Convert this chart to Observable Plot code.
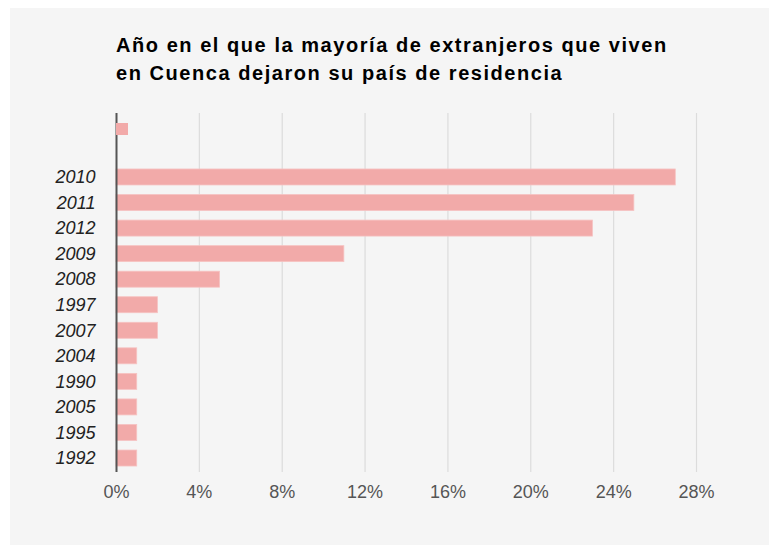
<!DOCTYPE html>
<html>
<head>
<meta charset="utf-8">
<script src="https://cdn.jsdelivr.net/npm/d3@7"></script>
<script src="https://cdn.jsdelivr.net/npm/@observablehq/plot@0.6"></script>
<style>
  html, body { margin: 0; padding: 0; background: #ffffff; }
  #wrap { position: relative; width: 769px; height: 546px; overflow: hidden; }
  #panel { position: absolute; left: 10px; top: 8px; width: 759px; height: 537px; background: #f5f5f5; }
  #title { position: absolute; left: 116px; top: 31px; font-family: "Liberation Sans", Arial, sans-serif; font-weight: bold; font-size: 20px; letter-spacing: 1.55px; line-height: 28px; color: #000; white-space: nowrap; }
  #legend { position: absolute; left: 116px; top: 123px; width: 12px; height: 12px; background: #f2aaa9; }
  #chart { position: absolute; left: 0; top: 0; }
  #chart g[aria-label="y-axis tick label"] text { font-style: italic; }
</style>
</head>
<body>
<div id="wrap">
  <div id="panel"></div>
  <div id="chart"></div>
  <div id="title"></div>
  <div id="legend"></div>
</div>
<script>
const titleLines = ["Año en el que la mayoría de extranjeros que viven", "en Cuenca dejaron su país de residencia"];
const years = ["2010", "2011", "2012", "2009", "2008", "1997", "2007", "2004", "1990", "2005", "1995", "1992"];
const percents = [27, 25, 23, 11, 5, 2, 2, 1, 1, 1, 1, 1];
const xTicks = [0, 4, 8, 12, 16, 20, 24, 28];

document.getElementById("title").innerHTML = titleLines.join("<br>");

const data = years.map((y, i) => ({year: y, value: percents[i]}));

const chart = Plot.plot({
  width: 769,
  height: 546,
  marginLeft: 116,
  marginRight: 73,
  marginTop: 113,
  marginBottom: 74,
  style: {background: "transparent", fontFamily: "'Liberation Sans', Arial, sans-serif"},
  x: {domain: [0, 28], ticks: xTicks},
  y: {domain: years, range: [164.2, 470.8], paddingInner: 0.374, paddingOuter: 0.187, round: false},
  marks: [
    Plot.ruleX(xTicks.slice(1), {stroke: "#dcdcdc", strokeWidth: 1.2}),
    Plot.barX(data, {x: "value", y: "year", fill: "#f2aaa9", stroke: "#f6c3c2", strokeWidth: 0.8}),
    Plot.ruleX([0], {stroke: "#555555", strokeWidth: 2}),
    Plot.axisX({ticks: xTicks, tickSize: 0, tickPadding: 13, fontSize: 18, fill: "#555", tickFormat: d => d + "%", label: null}),
    Plot.axisY({tickSize: 0, tickPadding: 21, fontSize: 18, fill: "#222", label: null})
  ]
});
document.getElementById("chart").appendChild(chart);
</script>
</body>
</html>
